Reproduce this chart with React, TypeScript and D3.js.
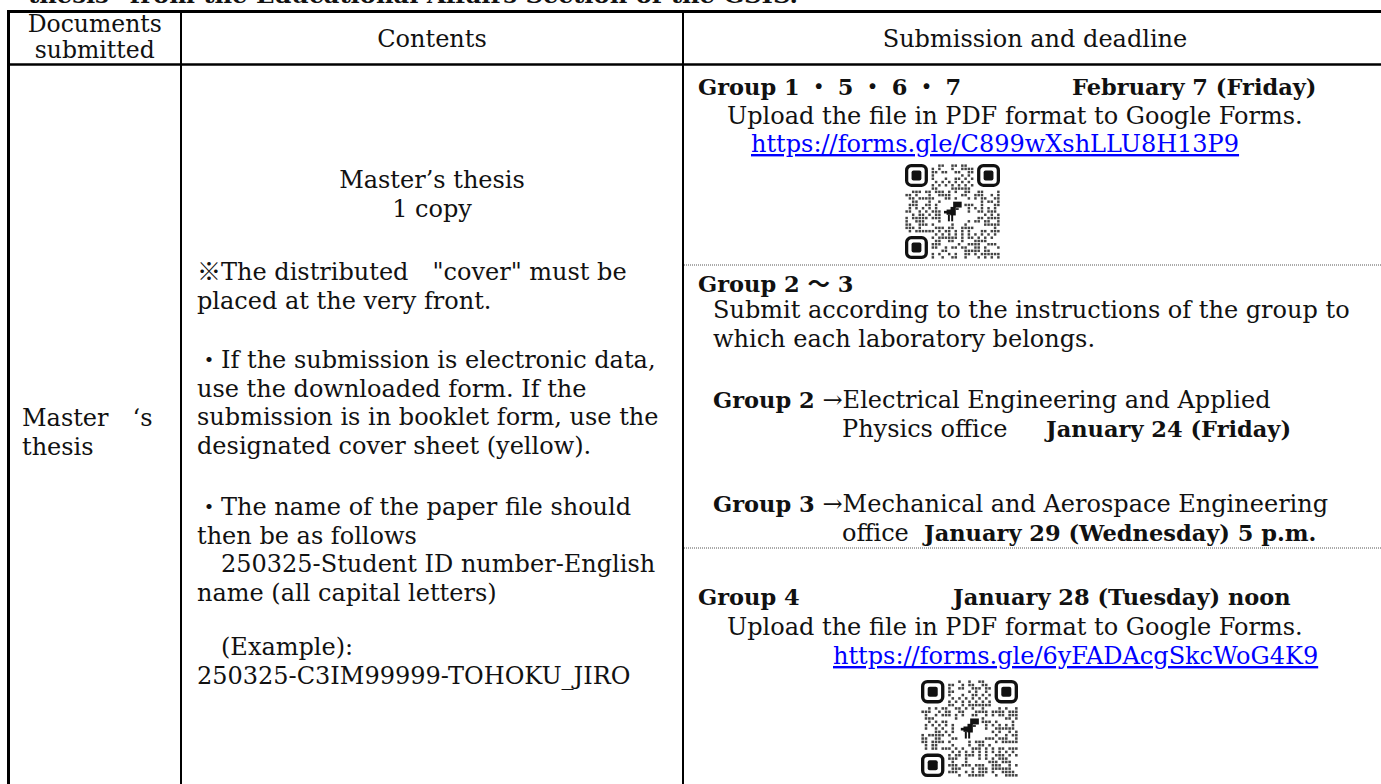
import { useEffect, useRef } from "react";
import * as d3 from "d3";

// ---- table content ----
const introText = "thesis\" from the Educational Affairs Section of the GSIS.";
const headerLabels = [["Documents", "submitted"], ["Contents"], ["Submission and deadline"]];
const documentName = ["Master\u3000‘s", "thesis"];

const copyLines = ["Master’s thesis", "1 copy"];
const coverNote = ["※The distributed\u3000\"cover\" must be", "placed at the very front."];
const formatNote = [
  "・If the submission is electronic data,",
  "use the downloaded form. If the",
  "submission is in booklet form, use the",
  "designated cover sheet (yellow).",
];
const fileNameNote = [
  "・The name of the paper file should",
  "then be as follows",
  "\u3000250325-Student ID number-English",
  "name (all capital letters)",
];
const exampleNote = ["\u3000(Example):", "250325-C3IM99999-TOHOKU_JIRO"];

const groupTitles = ["Group 1 ・ 5 ・ 6 ・ 7", "Group 2 〜 3", "Group 4"];
const groupDeadlines = ["February 7 (Friday)", "", "January 28 (Tuesday) noon"];
const uploadNote = "Upload the file in PDF format to Google Forms.";
const formLinks = ["https://forms.gle/C899wXshLLU8H13P9", "https://forms.gle/6yFADAcgSkcWoG4K9"];
const labNote = ["Submit according to the instructions of the group to", "which each laboratory belongs."];
const officeGroups = ["Group 2", "Group 3"];
const officeNames = ["→Electrical Engineering and Applied", "→Mechanical and Aerospace Engineering"];
const officeTails = ["Physics office", "office"];
const officeDeadlines = ["January 24 (Friday)", "January 29 (Wednesday) 5 p.m."];

// ---- layout ----
const W = 1381;
const H = 784;
const colX = [8.5, 181, 683, 1387];
const headTop = 11.5;
const headBottom = 64.5;
const FONT = "'DejaVu Serif', 'Noto Sans CJK JP', serif";
const FS = 24;
const BOLD_FS = 22.5;
const LH = 28.6;

// QR-like pattern derived from the link text (decoration only)
function qrModules(seed: string, n: number) {
  const cells: { r: number; c: number }[] = [];
  const inFinder = (r: number, c: number) =>
    (r < 8 && c < 8) || (r < 8 && c >= n - 8) || (r >= n - 8 && c < 8);
  const mid = Math.floor(n / 2);
  for (let r = 0; r < n; r++) {
    for (let c = 0; c < n; c++) {
      if (inFinder(r, c)) continue;
      if (Math.abs(r - mid) <= 3 && Math.abs(c - mid) <= 3) continue;
      let on: boolean;
      if (r === 6) on = c % 2 === 0;
      else if (c === 6) on = r % 2 === 0;
      else {
        const ch = seed.charCodeAt((r * 7 + c * 13) % seed.length);
        on = (((ch * (r + 3) + c * 31 + r * c) >> 2) & 1) === 1;
      }
      if (on) cells.push({ r, c });
    }
  }
  return cells;
}

function drawQr(g: d3.Selection<SVGGElement, unknown, null, undefined>, seed: string, x: number, y: number, size: number) {
  const n = 29;
  const s = d3.scaleLinear().domain([0, n]).range([0, size]);
  const q = g.append("g").attr("transform", `translate(${x},${y})`);
  q.selectAll("rect.m")
    .data(qrModules(seed, n))
    .join("rect")
    .attr("class", "m")
    .attr("x", (d) => s(d.c) + 0.4)
    .attr("y", (d) => s(d.r) + 0.4)
    .attr("width", s(1) - 0.8)
    .attr("height", s(1) - 0.8)
    .attr("fill", "#444");
  const corners = [
    [0, 0],
    [n - 7, 0],
    [0, n - 7],
  ];
  const f = q.selectAll("g.finder").data(corners).join("g").attr("class", "finder")
    .attr("transform", (d) => `translate(${s(d[0])},${s(d[1])})`);
  f.append("rect")
    .attr("x", s(0.5)).attr("y", s(0.5))
    .attr("width", s(6)).attr("height", s(6))
    .attr("rx", s(1.4))
    .attr("fill", "none").attr("stroke", "#111").attr("stroke-width", s(1));
  f.append("rect")
    .attr("x", s(2)).attr("y", s(2))
    .attr("width", s(3)).attr("height", s(3))
    .attr("rx", s(0.6))
    .attr("fill", "#111");
  // dino in the centre
  const c = n / 2;
  const dino = q.append("g").attr("fill", "#111");
  const parts = [
    [c + 0.2, c - 3.0, 2.6, 1.8],
    [c - 0.6, c - 1.4, 1.6, 2.6],
    [c - 1.8, c - 0.6, 1.6, 1.6],
    [c - 2.6, c - 0.2, 1.0, 0.8],
    [c - 1.4, c + 1.0, 0.6, 2.0],
    [c - 0.4, c + 1.0, 0.6, 2.0],
    [c + 1.0, c - 1.0, 0.9, 0.5],
  ];
  dino.selectAll("rect").data(parts).join("rect")
    .attr("x", (d) => s(d[0])).attr("y", (d) => s(d[1]))
    .attr("width", (d) => s(d[2])).attr("height", (d) => s(d[3]));
}

export default function App() {
  const svgRef = useRef<SVGSVGElement>(null);

  useEffect(() => {
    const svg = d3.select(svgRef.current);
    svg.selectAll("*").remove();
    svg.append("rect").attr("width", W).attr("height", H).attr("fill", "#fff");

    const root = svg.append("g").attr("font-family", FONT).attr("font-size", FS).attr("fill", "#111");

    const lines = (
      list: string[],
      x: number,
      y0: number,
      opts: { anchor?: string; bold?: boolean; fill?: string; underline?: boolean; size?: number } = {}
    ) =>
      root.append("g").selectAll("text").data(list).join("text")
        .attr("x", x)
        .attr("y", (_, i) => y0 + i * LH)
        .attr("text-anchor", opts.anchor ?? "start")
        .attr("font-weight", opts.bold ? "bold" : "normal")
        .attr("font-size", opts.size ?? (opts.bold ? BOLD_FS : FS))
        .attr("fill", opts.fill ?? "#111")
        .attr("text-decoration", opts.underline ? "underline" : null)
        .text((d) => d);

    // sentence above the table, cut by the top edge
    root.append("text")
      .attr("x", 28).attr("y", 3)
      .attr("font-weight", "bold").attr("font-size", 22)
      .attr("textLength", 770).attr("lengthAdjust", "spacingAndGlyphs")
      .text(introText);

    // header
    const centers = d3.range(3).map((i) => (colX[i] + colX[i + 1]) / 2);
    headerLabels.forEach((lab, i) => {
      const two = lab.length > 1;
      root.append("g").selectAll("text").data(lab).join("text")
        .attr("x", centers[i])
        .attr("y", (_, j) => (two ? 32 : 47) + j * 26)
        .attr("text-anchor", "middle")
        .attr("font-size", two ? 23.5 : FS)
        .text((d) => d);
    });

    // column 1
    lines(documentName, 22, 426);

    // column 2
    const c2 = 197;
    lines(copyLines, centers[1], 188, { anchor: "middle" });
    lines(coverNote, c2, 280);
    lines(formatNote, c2, 368);
    lines(fileNameNote, c2, 515);
    lines(exampleNote, c2, 655);

    // column 3
    const g3 = 698;
    lines([groupTitles[0]], g3, 95, { bold: true });
    lines([groupDeadlines[0]], 1072, 95, { bold: true });
    lines([uploadNote], 727, 123.6);
    lines([formLinks[0]], 751, 152, { fill: "#0000ff", underline: true });

    lines([groupTitles[1]], g3, 292, { bold: true });
    lines(labNote, 713, 318);

    const officeY = [408, 512];
    const deadlineX = [1046, 924];
    officeGroups.forEach((grp, i) => {
      const t = root.append("text").attr("x", 713).attr("y", officeY[i]);
      t.append("tspan").attr("font-weight", "bold").attr("font-size", BOLD_FS).text(grp + " ");
      t.append("tspan").text(officeNames[i]);
      lines([officeTails[i]], 842, officeY[i] + LH);
      lines([officeDeadlines[i]], deadlineX[i], officeY[i] + LH, { bold: true });
    });

    lines([groupTitles[2]], g3, 605, { bold: true });
    lines([groupDeadlines[2]], 953, 605, { bold: true });
    lines([uploadNote], 727, 635);
    lines([formLinks[1]], 833, 664, { fill: "#0000ff", underline: true });

    drawQr(root, formLinks[0], 905, 164, 95);
    drawQr(root, formLinks[1], 921, 680, 97);

    // rules
    const rules = svg.append("g").attr("stroke", "#000");
    rules.append("line").attr("x1", 7).attr("x2", W).attr("y1", headTop).attr("y2", headTop).attr("stroke-width", 3);
    rules.append("line").attr("x1", 7).attr("x2", W).attr("y1", headBottom).attr("y2", headBottom).attr("stroke-width", 2.5);
    rules.append("line").attr("x1", colX[0]).attr("x2", colX[0]).attr("y1", headTop).attr("y2", H).attr("stroke-width", 3);
    rules.selectAll("line.col").data(colX.slice(1, 3)).join("line").attr("class", "col")
      .attr("x1", (d) => d).attr("x2", (d) => d)
      .attr("y1", headTop).attr("y2", H).attr("stroke-width", 2);
    rules.selectAll("line.dot").data([265, 548]).join("line").attr("class", "dot")
      .attr("x1", colX[2] + 1).attr("x2", W)
      .attr("y1", (d) => d).attr("y2", (d) => d)
      .attr("stroke", "#555").attr("stroke-width", 1).attr("stroke-dasharray", "1 1");
  }, []);

  return (
    <div style={{ position: "absolute", left: 0, top: 0, background: "#fff" }}>
      <svg ref={svgRef} width={W} height={H} style={{ display: "block" }} />
    </div>
  );
}
